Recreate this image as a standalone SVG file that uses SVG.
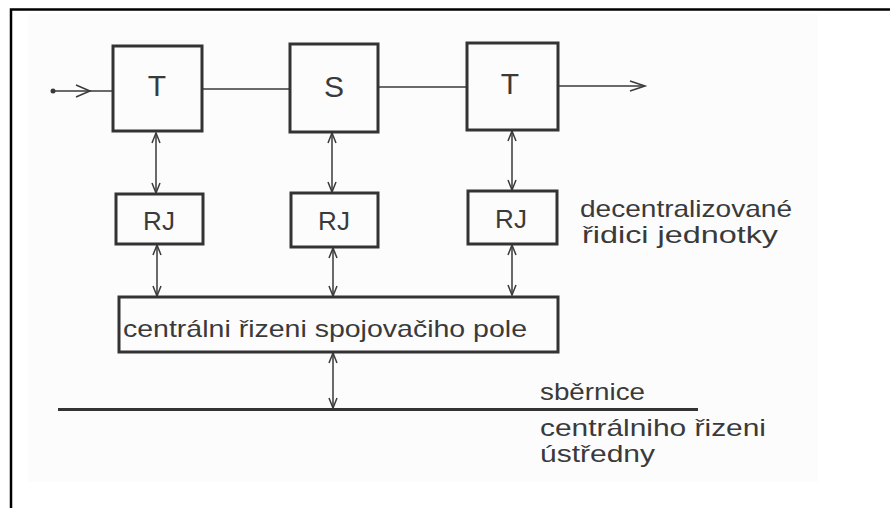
<svg xmlns="http://www.w3.org/2000/svg" width="890" height="508" viewBox="0 0 890 508">
<defs>
<marker id="chev" viewBox="0 0 12 10" refX="11" refY="5" markerWidth="12" markerHeight="10" markerUnits="userSpaceOnUse" orient="auto-start-reverse">
<path d="M1,1 L11,5 L1,9" fill="none" stroke="#3a3a3a" stroke-width="1.5"/>
</marker>
<style>
.box{fill:none;stroke:#333;stroke-width:3}
.ln{fill:none;stroke:#3a3a3a;stroke-width:1.5}
.dbl{fill:none;stroke:#3a3a3a;stroke-width:1.5;marker-start:url(#chev);marker-end:url(#chev)}
.lbl{font-family:"Liberation Sans",Arial,sans-serif;fill:#3a3a3a;text-anchor:middle}
.txt{font-family:"Liberation Sans",Arial,sans-serif;fill:#3a3a3a;font-size:24px}
</style>
</defs>
<rect x="0" y="0" width="890" height="508" fill="#fff"/>
<rect x="28" y="14" width="790" height="468" fill="#fcfcfc"/>
<path d="M11,508 L11,9.5 L890,9.5" fill="none" stroke="#000" stroke-width="2.5"/>

<g id="connectors">
<circle cx="53" cy="91" r="2.5" fill="#3a3a3a"/>
<line class="ln" x1="53" y1="91" x2="113" y2="91"/>
<polyline class="ln" points="76,85 90,91 76,97"/>
<line class="ln" x1="202" y1="89" x2="290" y2="89"/>
<line class="ln" x1="378" y1="87" x2="467" y2="87"/>
<line class="ln" x1="558" y1="86" x2="645" y2="86"/>
<polyline class="ln" points="630,81 645,86 630,91"/>
<line class="dbl" x1="156" y1="133" x2="156" y2="193"/>
<line class="dbl" x1="332" y1="133" x2="332" y2="192"/>
<line class="dbl" x1="512" y1="131" x2="512" y2="190"/>
<line class="dbl" x1="157" y1="245" x2="157" y2="296"/>
<line class="dbl" x1="333" y1="248" x2="333" y2="296"/>
<line class="dbl" x1="512" y1="245" x2="512" y2="295"/>
<line class="dbl" x1="333" y1="353" x2="333" y2="408"/>
<line x1="58" y1="409.5" x2="698" y2="409.5" stroke="#333" stroke-width="3"/>
</g>

<g id="T1"><rect class="box" x="113" y="46" width="89" height="85"/><text class="lbl" x="157" y="96" font-size="30">T</text></g>
<g id="S"><rect class="box" x="290" y="44" width="88" height="88"/><text class="lbl" x="334" y="97" font-size="30">S</text></g>
<g id="T2"><rect class="box" x="467" y="43" width="91" height="87"/><text class="lbl" x="510" y="94" font-size="30">T</text></g>

<g id="RJ1"><rect class="box" x="116" y="194" width="87" height="50"/><text class="lbl" x="159" y="230" font-size="26">RJ</text></g>
<g id="RJ2"><rect class="box" x="291" y="193" width="87" height="54"/><text class="lbl" x="334" y="230" font-size="26">RJ</text></g>
<g id="RJ3"><rect class="box" x="468" y="191" width="89" height="53"/><text class="lbl" x="511" y="228" font-size="26">RJ</text></g>

<g id="central"><rect class="box" x="119" y="297" width="439" height="55"/><text class="txt" x="123" y="337" font-size="27" textLength="404" lengthAdjust="spacingAndGlyphs">centrálni řizeni spojovačiho pole</text></g>

<g id="label-decentral">
<text class="txt" x="580" y="217" textLength="212" lengthAdjust="spacingAndGlyphs">decentralizované</text>
<text class="txt" x="582" y="243" textLength="196" lengthAdjust="spacingAndGlyphs">řidici jednotky</text>
</g>
<g id="label-bus">
<text class="txt" x="540" y="400" textLength="105" lengthAdjust="spacingAndGlyphs">sběrnice</text>
<text class="txt" x="540" y="436" textLength="226" lengthAdjust="spacingAndGlyphs">centrálniho řizeni</text>
<text class="txt" x="540" y="462" textLength="115" lengthAdjust="spacingAndGlyphs">ústředny</text>
</g>
</svg>
